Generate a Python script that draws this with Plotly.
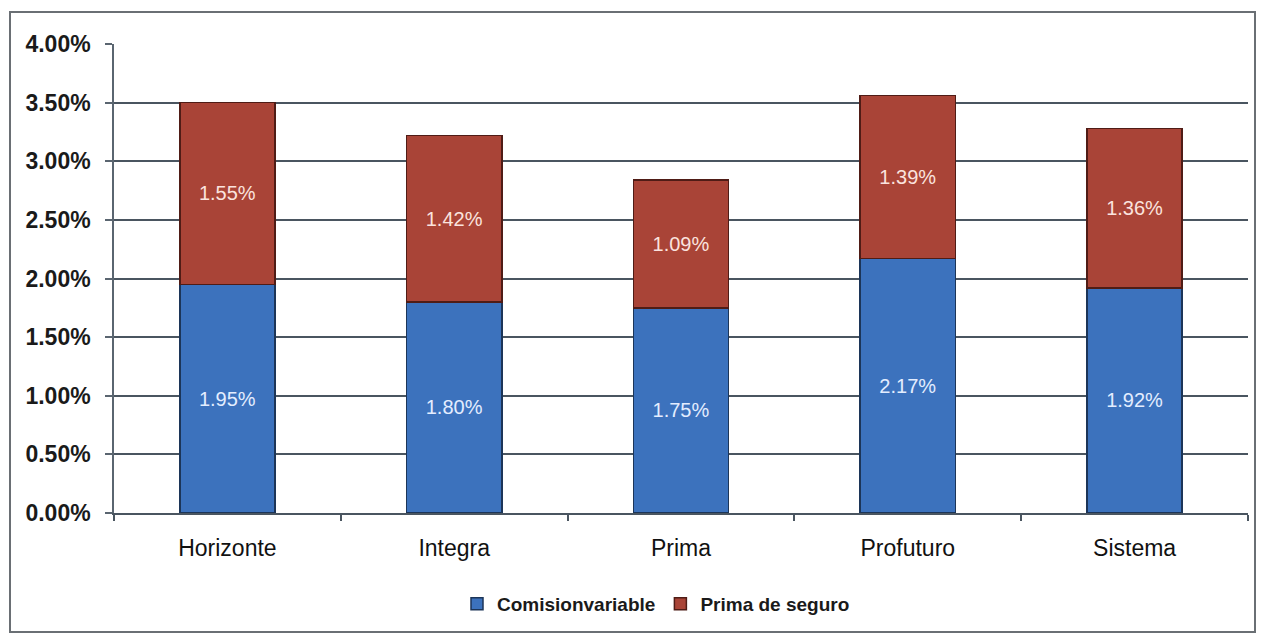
import plotly.graph_objects as go

categories = ["Horizonte", "Integra", "Prima", "Profuturo", "Sistema"]
comision_variable = [1.95, 1.80, 1.75, 2.17, 1.92]
prima_seguro = [1.55, 1.42, 1.09, 1.39, 1.36]
y_ticks = [0, 0.5, 1.0, 1.5, 2.0, 2.5, 3.0, 3.5, 4.0]
y_tick_labels = [f"{v:.2f}%" for v in y_ticks]

W, H = 1264, 637
L, R, T, B = 114, 16, 44, 124
pw, ph = W - L - R, H - T - B

def px_x(x):
    return (x - L) / pw

def px_y(y):
    return (H - B - y) / ph

FONT = "Liberation Sans, Arial"

fig = go.Figure()
fig.add_trace(go.Bar(
    name="Comisionvariable", x=categories, y=comision_variable,
    marker=dict(color="#3c72bd", line=dict(color="#1c3558", width=1.5)),
    text=[f"{v:.2f}%" for v in comision_variable],
    textposition="inside", insidetextanchor="middle",
    textfont=dict(family=FONT, size=20, color="#e3edff"),
    hoverinfo="skip",
))
fig.add_trace(go.Bar(
    name="Prima de seguro", x=categories, y=prima_seguro,
    marker=dict(color="#a94437", line=dict(color="#4f1c16", width=1.5)),
    text=[f"{v:.2f}%" for v in prima_seguro],
    textposition="inside", insidetextanchor="middle",
    textfont=dict(family=FONT, size=20, color="#fbe3de"),
    hoverinfo="skip",
))

fig.update_layout(
    barmode="stack",
    bargap=0.58,
    width=W, height=H,
    margin=dict(l=L, r=R, t=T, b=B, autoexpand=False),
    paper_bgcolor="white", plot_bgcolor="white",
    font=dict(family=FONT, color="#1a1a1a"),
    showlegend=True,
    legend=dict(
        orientation="h", x=px_x(656), xanchor="center", y=px_y(604), yanchor="middle",
        font=dict(size=19, color="#1a1a1a", weight="bold"), traceorder="normal",
        itemwidth=30, tracegroupgap=0,
    ),
    yaxis=dict(
        range=[0, 4.0], tickvals=y_ticks, ticktext=y_tick_labels,
        showgrid=True, gridcolor="#4a5560", gridwidth=1.5,
        zeroline=False,
        showline=True, linecolor="#5a6570", linewidth=1.5,
        ticks="outside", ticklen=7, tickcolor="#5a6570", tickwidth=1.5,
        tickfont=dict(size=23, color="#1a1a1a", family=FONT, weight="bold"),
        ticklabelstandoff=10,
    ),
    xaxis=dict(
        showline=True, linecolor="#4a5560", linewidth=1.5,
        ticks="outside", tickson="boundaries", ticklen=6, tickcolor="#4a5560", tickwidth=1.5,
        tickfont=dict(size=23, color="#111111"),
        ticklabelstandoff=14,
    ),
    shapes=[dict(
        type="rect", xref="paper", yref="paper",
        x0=px_x(10), x1=px_x(1255), y0=px_y(632), y1=px_y(12),
        line=dict(color="#6a6f74", width=2), fillcolor="rgba(0,0,0,0)", layer="below",
    )],
)

fig.write_html(
    "out.html",
    config={"displayModeBar": False},
    post_script="document.body.style.margin='0';document.body.style.overflow='hidden';",
)
